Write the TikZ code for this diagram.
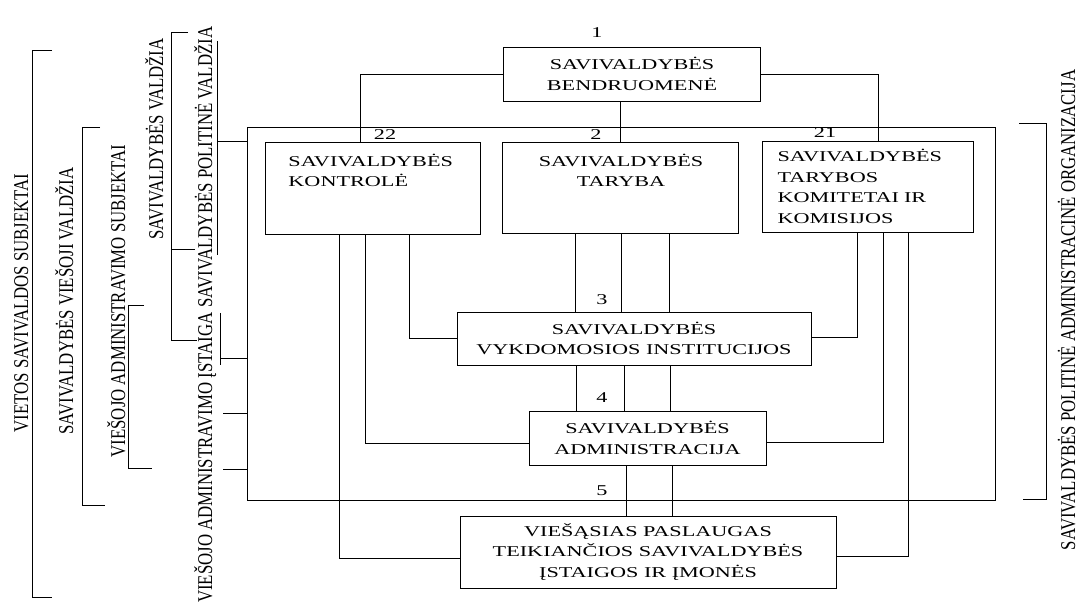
\documentclass[tikz,border=0pt]{standalone}
\usepackage{fontspec}
\setmainfont{Liberation Serif}
\newfontfamily\boxfont[FakeStretch=1.48]{Liberation Serif}
\newfontfamily\sidefont[FakeStretch=0.8]{Liberation Serif}
\usetikzlibrary{shapes,arrows}

\begin{document}
\begin{tikzpicture}[x=1pt,y=-1pt,line width=0.9pt,
  box/.style={draw,rectangle,inner sep=0pt,align=center,font=\boxfont\fontsize{15}{20.5}\selectfont},
  boxtxt/.style={inner sep=0pt,font=\boxfont\fontsize{15}{20.5}\selectfont},
  num/.style={inner sep=0pt,font=\boxfont\fontsize{15}{18}\selectfont},
  side/.style={inner sep=0pt,rotate=90,anchor=base,font=\sidefont\fontsize{21}{24}\selectfont}]

\useasboundingbox (0,0) rectangle (1086,609);

\node[draw,minimum width=748pt,minimum height=373pt] (Frame) at (621,313.5) {};

\node[box,minimum width=257pt,minimum height=54pt] (Bendr) at (632,74) {SAVIVALDYBĖS\\BENDRUOMENĖ};
\node[box,minimum width=215pt,minimum height=92pt] (Kontr) at (372.5,188) {};
\node[boxtxt,anchor=west,align=left] (KontrT) at (288,170.5) {SAVIVALDYBĖS\\KONTROLĖ};
\node[box,minimum width=236pt,minimum height=91pt] (Taryba) at (620,187.5) {};
\node[boxtxt,align=center] (TarybaT) at (621,170.5) {SAVIVALDYBĖS\\TARYBA};
\node[box,minimum width=211pt,minimum height=91pt,text width=180pt,align=left] (Komit) at (867.5,186.5) {SAVIVALDYBĖS\\TARYBOS\\KOMITETAI IR\\KOMISIJOS};
\node[box,minimum width=354pt,minimum height=53pt] (Vykd) at (634,338.5) {SAVIVALDYBĖS\\VYKDOMOSIOS INSTITUCIJOS};
\node[box,minimum width=237pt,minimum height=54pt] (Admin) at (647.5,438) {SAVIVALDYBĖS\\ADMINISTRACIJA};
\node[box,minimum width=376pt,minimum height=72pt] (Pasl) at (648,552) {VIEŠĄSIAS PASLAUGAS\\TEIKIANČIOS SAVIVALDYBĖS\\ĮSTAIGOS IR ĮMONĖS};

\node[num] (N1) at (597,33) {1};
\node[num] (N22) at (385,135) {22};
\node[num] (N2) at (596,135) {2};
\node[num] (N21) at (825,133) {21};
\node[num] (N3) at (602,300) {3};
\node[num] (N4) at (602,398) {4};
\node[num] (N5) at (602,491) {5};

\draw (Bendr.west) -| ([xshift=-12.5pt]Kontr.north);
\draw (Bendr.east) -| ([xshift=10.5pt]Komit.north);
\draw (Taryba.north |- Bendr.south) -- (Taryba.north);

\draw ([xshift=36.5pt]Kontr.south) |- (Vykd.west);
\draw ([xshift=-7.5pt]Kontr.south) |- ([yshift=-5pt]Admin.west);
\draw ([xshift=-33.5pt]Kontr.south) |- ([yshift=-6pt]Pasl.west);

\draw ([xshift=-10.5pt]Komit.south) |- ([yshift=1.5pt]Vykd.east);
\draw ([xshift=15.5pt]Komit.south) |- ([yshift=-4pt]Admin.east);
\draw ([xshift=40.5pt]Komit.south) |- ([yshift=-4pt]Pasl.east);

\foreach \dx in {-45,1,49}
  \draw (Taryba.south) ++(\dx,0) coordinate (tmp) -- (tmp |- Vykd.north);
\foreach \dx in {-58,-10,36}
  \draw (Vykd.south) ++(\dx,0) coordinate (tmp) -- (tmp |- Admin.north);
\foreach \dx in {-21.5,24.5}
  \draw (Admin.south) ++(\dx,0) coordinate (tmp) -- (tmp |- Pasl.north);

\node[side] (VietSubj) at (28,303) {VIETOS SAVIVALDOS SUBJEKTAI};
\node[side] (ViesV) at (73,301) {SAVIVALDYBĖS VIEŠOJI VALDŽIA};
\node[side] (AdmSubj) at (125,301) {VIEŠOJO ADMINISTRAVIMO SUBJEKTAI};
\node[side] (SavV) at (163,139) {SAVIVALDYBĖS VALDŽIA};
\node[side,anchor=base west] (PolVald) at (212,308) {SAVIVALDYBĖS POLITINĖ VALDŽIA};
\node[side,anchor=base east] (AdmIst) at (212,312) {VIEŠOJO ADMINISTRAVIMO ĮSTAIGA};
\node[side] (Organiz) at (1075,310) {SAVIVALDYBĖS POLITINĖ ADMINISTRACINĖ ORGANIZACIJA};

\draw (52,50) -- (32,50) -- (32,597) -- (52,597);
\draw (100,127) -- (82,127) -- (82,505) -- (105,505);
\draw (144,305) -- (128,305) -- (128,468) -- (152,468);
\draw (188,32) -- (171,32) -- (171,340) -- (197,340);
\draw (171,249) -- (195,249);
\draw (217,41) -- (217,255);
\draw (220,313) -- (220,365);
\draw (1019,123) -- (1046,123) -- (1046,499) -- (1023,499);

\coordinate (PolTick) at (217,141);
\coordinate (IstTick) at (220,358);
\coordinate (TickA) at (223,413);
\coordinate (TickB) at (223,469);
\draw (PolTick) -- (PolTick -| Frame.west);
\draw (IstTick) -- (IstTick -| Frame.west);
\draw (TickA) -- (TickA -| Frame.west);
\draw (TickB) -- (TickB -| Frame.west);

\end{tikzpicture}
\end{document}
